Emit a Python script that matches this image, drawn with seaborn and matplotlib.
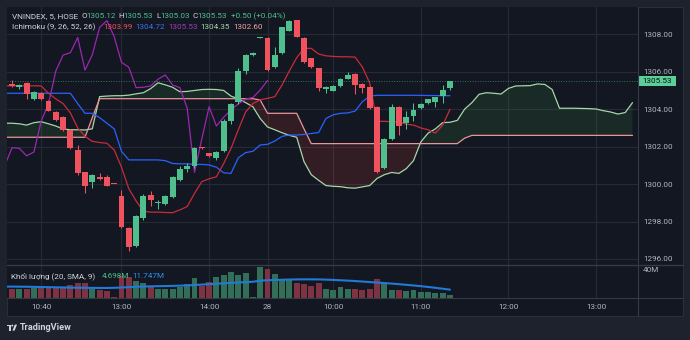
import numpy as np
import matplotlib
matplotlib.use("Agg")
import matplotlib.pyplot as plt
from matplotlib.patches import Rectangle, Polygon, Ellipse
from matplotlib.lines import Line2D
import seaborn as sns

# ---------------- data ----------------
opens = [1305.32, 1305.17, 1305.41, 1304.54, 1304.88, 1304.44, 1303.87, 1303.60, 1302.89, 1301.82,
         1300.63, 1300.13, 1300.39, 1300.39, 1300.02, 1299.38, 1297.67, 1296.71, 1298.17, 1299.42,
         1299.00, 1298.93, 1299.29, 1300.22, 1300.80, 1300.96, 1301.96, 1301.64, 1301.38, 1301.77,
         1303.38, 1304.40, 1306.04, 1306.89, 1307.80, 1307.82, 1306.24, 1306.98, 1308.18, 1308.76,
         1307.82, 1306.72, 1306.18, 1305.06, 1304.99, 1305.24, 1305.63, 1305.88, 1305.35, 1305.20,
         1304.13, 1300.84, 1302.41, 1304.13, 1303.28, 1303.65, 1304.05, 1304.35, 1304.40, 1304.70,
         1305.12]
highs = [1305.55, 1305.35, 1305.45, 1304.98, 1304.92, 1304.48, 1303.90, 1303.65, 1302.92, 1302.09,
         1300.66, 1300.52, 1300.57, 1300.50, 1300.02, 1299.68, 1297.70, 1298.35, 1299.45, 1299.63,
         1299.15, 1299.42, 1300.45, 1300.95, 1301.11, 1302.00, 1302.00, 1301.68, 1301.78, 1303.45,
         1304.35, 1306.18, 1306.95, 1307.06, 1307.85, 1307.85, 1307.34, 1308.40, 1308.76, 1308.78,
         1307.85, 1306.75, 1306.20, 1305.22, 1305.28, 1305.65, 1306.00, 1305.92, 1305.38, 1305.22,
         1304.15, 1302.45, 1304.28, 1304.18, 1303.92, 1304.35, 1304.32, 1304.57, 1304.67, 1305.29,
         1305.53]
lows = [1305.20, 1305.10, 1304.53, 1304.49, 1304.50, 1303.88, 1303.38, 1302.85, 1301.88, 1300.50,
        1299.54, 1299.79, 1300.20, 1299.88, 1299.98, 1297.65, 1296.42, 1296.65, 1298.10, 1298.83,
        1298.65, 1298.88, 1299.25, 1300.18, 1300.66, 1300.85, 1301.85, 1301.45, 1301.30, 1301.70,
        1303.20, 1304.30, 1305.90, 1306.85, 1307.80, 1306.05, 1306.20, 1306.95, 1308.15, 1307.85,
        1306.45, 1306.20, 1304.99, 1304.85, 1304.95, 1305.20, 1305.60, 1304.79, 1304.85, 1304.00,
        1300.60, 1300.80, 1302.38, 1302.62, 1302.93, 1303.38, 1304.00, 1304.30, 1304.13, 1304.35,
        1305.03]
closes = [1305.26, 1305.28, 1304.79, 1304.93, 1304.55, 1303.92, 1303.42, 1302.89, 1301.91, 1300.57,
          1299.91, 1300.48, 1300.27, 1299.91, 1299.98, 1297.69, 1296.65, 1298.31, 1299.36, 1299.15,
          1299.05, 1299.38, 1300.36, 1300.80, 1300.98, 1301.94, 1301.91, 1301.51, 1301.71, 1303.37,
          1304.28, 1306.04, 1306.89, 1307.02, 1307.83, 1306.09, 1306.90, 1308.37, 1308.73, 1307.87,
          1306.50, 1306.24, 1305.15, 1305.17, 1305.24, 1305.60, 1305.83, 1305.29, 1305.15, 1304.05,
          1300.63, 1302.41, 1304.13, 1303.10, 1303.57, 1303.96, 1304.28, 1304.53, 1304.63, 1305.02,
          1305.53]
volumes_m = [13.1, 13.1, 13.1, 14.0, 14.0, 14.0, 14.0, 15.4, 17.8, 21.5,
             21.5, 13.0, 10.8, 9.4, 1.5, 30.9, 29.5, 23.9, 21.5, 15.4,
             13.1, 13.1, 13.1, 15.4, 20.1, 28.1, 16.8, 22.5, 29.5, 32.8,
             36.5, 32.8, 35.1, 1.9, 43.5, 40.2, 34.2, 24.8, 24.8, 21.1,
             19.2, 16.8, 21.1, 13.1, 11.2, 15.0, 13.1, 13.1, 11.2, 12.2,
             27.1, 20.6, 11.2, 11.2, 9.4, 11.2, 8.4, 8.4, 7.5, 7.5,
             4.698]
# lines below start one bar before the first candle (index -1)
conversion = [1305.25, 1305.25, 1305.25, 1305.25, 1305.25, 1305.24, 1304.85, 1304.55, 1304.30, 1303.80,
              1303.00, 1302.55, 1302.28, 1302.22, 1302.18, 1301.82, 1300.90, 1299.75, 1299.10, 1298.55,
              1298.50, 1298.50, 1298.48, 1298.47, 1298.62, 1298.80, 1299.50, 1300.13, 1300.28, 1300.39,
              1301.10, 1301.90, 1302.90, 1303.85, 1304.30, 1304.50, 1304.58, 1304.67, 1305.30, 1306.05,
              1306.75, 1307.25, 1307.25, 1306.95, 1306.85, 1306.82, 1306.80, 1306.80, 1306.78, 1306.25,
              1305.40, 1303.35, 1303.35, 1303.33, 1303.30, 1303.20, 1303.15, 1303.00, 1302.90, 1302.72,
              1303.15, 1303.99]
base = [1304.85, 1304.85, 1304.85, 1304.85, 1304.85, 1304.85, 1304.85, 1304.85, 1304.85, 1304.85,
        1304.30, 1303.78, 1303.78, 1303.55, 1303.25, 1302.95, 1301.75, 1301.29, 1301.29, 1301.29,
        1301.29, 1301.29, 1301.25, 1301.10, 1301.08, 1301.08, 1301.05, 1301.05, 1301.02, 1300.90,
        1300.60, 1300.57, 1301.40, 1301.68, 1301.75, 1302.09, 1302.12, 1302.30, 1302.55, 1302.62,
        1302.62, 1302.65, 1302.70, 1302.75, 1303.50, 1303.70, 1303.78, 1303.80, 1303.90, 1304.40,
        1304.70, 1304.74, 1304.74, 1304.74, 1304.74, 1304.74, 1304.74, 1304.74, 1304.73, 1304.73,
        1304.72, 1304.72]
vol_ma_m = [16.0, 16.0, 15.9, 15.8, 15.6, 15.4, 15.2, 15.0, 14.8, 14.6,
            14.4, 14.3, 14.2, 14.1, 14.1, 14.3, 14.7, 15.2, 15.7, 16.1,
            16.4, 16.6, 16.8, 17.0, 17.3, 17.7, 18.2, 18.8, 19.4, 20.0,
            20.6, 21.2, 21.8, 22.3, 22.8, 24.3, 24.9, 25.3, 25.6, 25.9,
            26.1, 26.2, 26.2, 26.1, 25.8, 25.4, 24.9, 24.4, 23.8, 23.1,
            22.4, 21.7, 21.0, 20.2, 19.4, 18.5, 17.6, 16.6, 15.5, 14.3,
            13.0, 11.747]
# leading spans: index -1 .. 85 (projected 25 bars ahead)
span_a = [1303.25, 1303.25, 1303.22, 1303.15, 1303.28, 1303.33, 1303.22, 1303.10, 1302.94, 1302.90,
          1302.90, 1302.89, 1302.95, 1304.67, 1304.70, 1304.72, 1304.72, 1304.75, 1304.82, 1304.88,
          1305.10, 1305.41, 1305.30, 1305.17, 1304.93, 1304.95, 1305.00, 1305.05, 1305.06, 1305.05,
          1305.00, 1304.70, 1304.55, 1304.35, 1304.13, 1303.50, 1303.05, 1302.90, 1302.74, 1302.60,
          1302.50, 1301.20, 1300.50, 1300.20, 1299.92, 1299.88, 1299.86, 1299.80, 1299.78, 1299.85,
          1299.92, 1300.30, 1300.50, 1300.62, 1300.57, 1300.82, 1301.25, 1302.25, 1302.72, 1302.95,
          1303.28, 1303.30, 1303.40, 1304.00, 1304.35, 1304.80, 1304.88, 1304.85, 1304.81, 1305.11,
          1305.24, 1305.25, 1305.26, 1305.35, 1305.32, 1305.05, 1304.05, 1304.05, 1304.05, 1304.04,
          1304.03, 1304.01, 1303.92, 1303.85, 1303.74, 1303.82, 1304.35]
span_b = [1302.50, 1302.50, 1302.50, 1302.50, 1302.50, 1302.50, 1302.50, 1302.50, 1302.50, 1302.50,
          1302.50, 1302.50, 1303.55, 1304.56, 1304.56, 1304.56, 1304.56, 1304.56, 1304.56, 1304.56,
          1304.56, 1304.56, 1304.56, 1304.56, 1304.56, 1304.56, 1304.56, 1304.56, 1304.56, 1304.56,
          1304.56, 1304.56, 1304.56, 1304.56, 1304.56, 1304.49, 1303.78, 1303.78, 1303.78, 1303.78,
          1303.78, 1302.95, 1302.16, 1302.16, 1302.16, 1302.16, 1302.16, 1302.16, 1302.16, 1302.16,
          1302.16, 1302.16, 1302.16, 1302.16, 1302.16, 1302.16, 1302.16, 1302.16, 1302.16, 1302.16,
          1302.16, 1302.16, 1302.16, 1302.45, 1302.60, 1302.60, 1302.60, 1302.60, 1302.60, 1302.60,
          1302.60, 1302.60, 1302.60, 1302.60, 1302.60, 1302.60, 1302.60, 1302.60, 1302.60, 1302.60,
          1302.60, 1302.60, 1302.60, 1302.60, 1302.60, 1302.60, 1302.60]
LAG = 25
time_tick_bars = [4, 15, 27, 35, 44, 56, 68, 80]
time_tick_labels = ["10:40", "13:00", "14:00", "28", "10:00", "11:00", "12:00", "13:00"]
price_ticks = [1296, 1298, 1300, 1302, 1304, 1306, 1308]
last_price = 1305.53

# ---------------- style ----------------
sns.set_theme(style="dark")
plt.rcParams['font.family'] = ['Roboto', 'DejaVu Sans']

W, H = 690, 340
BG = '#1e222d'
PANEL = '#131722'
GRID = '#262a36'
SEP = '#363a45'
TXT = '#b2b5be'
LEG = '#d1d4dc'
UP = '#4fc08d'
DN = '#f0525e'
VUP = '#336f58'
VDN = '#7d3342'
C_CONV = '#c92b39'
C_BASE = '#2962ff'
C_LAG = '#9c27b0'
C_SA = '#a5d6a7'
C_SB = '#e8959a'
C_VMA = '#1f7ad8'
FS = 5.9

def price_at(py):
    return 1308 - (py - 34.3) / 18.72

def bar_at(px):
    return (px - 12) / 7.3

def fxy(px, py):
    return (px / W, 1 - py / H)

fig = plt.figure(figsize=(W / 100, H / 100), dpi=100, facecolor=BG)
fig.add_artist(Rectangle(fxy(6.5, 316), (683 - 6.5) / W, (316 - 6.5) / H,
                         transform=fig.transFigure, facecolor=PANEL,
                         edgecolor='#2a2e39', lw=0.8, zorder=-10))

ax = fig.add_axes([6.5 / W, 1 - 265 / H, (638 - 6.5) / W, (265 - 6.5) / H])
axv = fig.add_axes([6.5 / W, 1 - 298 / H, (638 - 6.5) / W, (298 - 265) / H])

o = np.array(opens); h = np.array(highs); l = np.array(lows); c = np.array(closes)
idx = np.arange(len(o))
line_idx = np.arange(-1, len(o))
cloud_idx = np.arange(-1, len(span_a) - 1)
lag_vals = np.array(closes[LAG - 1:])
lag_idx = np.arange(-1, len(lag_vals) - 1)
A = np.array(span_a); B = np.array(span_b)

for a in (ax, axv):
    a.set_facecolor(PANEL)
    a.grid(False)
    for s in a.spines.values():
        s.set_visible(False)
    for t in time_tick_bars:
        a.axvline(t, color=GRID, lw=0.8, zorder=0)
for p in price_ticks:
    ax.axhline(p, color=GRID, lw=0.8, zorder=0)

# cloud
ax.fill_between(cloud_idx, A, B, where=A >= B, interpolate=True, color='#43a047', alpha=0.14, lw=0, zorder=1)
ax.fill_between(cloud_idx, A, B, where=A < B, interpolate=True, color='#f44336', alpha=0.14, lw=0, zorder=1)
sns.lineplot(x=cloud_idx, y=A, ax=ax, color=C_SA, lw=0.9, legend=False, zorder=2)
sns.lineplot(x=cloud_idx, y=B, ax=ax, color=C_SB, lw=0.9, legend=False, zorder=2)
sns.lineplot(x=lag_idx, y=lag_vals, ax=ax, color=C_LAG, lw=0.9, legend=False, zorder=3)
sns.lineplot(x=line_idx, y=np.array(base), ax=ax, color=C_BASE, lw=0.9, legend=False, zorder=3)
sns.lineplot(x=line_idx, y=np.array(conversion), ax=ax, color=C_CONV, lw=0.9, legend=False, zorder=3)

# candles
up = c >= o
ccol = np.where(up, UP, DN)
ax.vlines(idx, l, h, colors=ccol, lw=0.75, zorder=4)
ax.bar(idx, np.maximum(np.abs(c - o), 0.05), bottom=np.minimum(o, c), width=0.8,
       color=ccol, linewidth=0, zorder=5)
ax.axhline(last_price, color=UP, lw=0.7, ls=(0, (1, 1.6)), alpha=0.55, zorder=6)

# volume
axv.bar(idx, volumes_m, width=0.82, color=np.where(up, VUP, VDN), linewidth=0, zorder=2)
sns.lineplot(x=line_idx, y=np.array(vol_ma_m), ax=axv, color=C_VMA, lw=1.5, legend=False, zorder=3)

# axes ranges & ticks
for a in (ax, axv):
    a.set_xlim(bar_at(6.5), bar_at(638))
    a.set_xlabel(''); a.set_ylabel('')
ax.set_ylim(price_at(265), price_at(6.5))
axv.set_ylim(0, 33 / 0.7125)

ax.set_xticks(time_tick_bars)
ax.tick_params(axis='x', length=0, labelbottom=False)
ax.yaxis.tick_right()
ax.set_yticks(price_ticks)
ax.set_yticklabels([f"{v:.2f}" for v in price_ticks])
ax.tick_params(axis='y', length=0, pad=3.6, labelsize=FS, labelcolor=TXT)
axv.set_yticks([])
axv.set_xticks(time_tick_bars)
axv.set_xticklabels(time_tick_labels)
axv.tick_params(axis='x', length=0, pad=4.6, labelsize=FS, labelcolor=TXT)

# separators
def fline(x0, y0, x1, y1, color=SEP, lw=0.8):
    fig.add_artist(Line2D([x0 / W, x1 / W], [1 - y0 / H, 1 - y1 / H],
                          transform=fig.transFigure, color=color, lw=lw))
fline(638, 6.5, 638, 316)
fline(6.5, 265, 683, 265, lw=1.0)
fline(6.5, 298, 683, 298)

# last price label
fig.add_artist(Rectangle(fxy(639, 86), 37 / W, 10.5 / H, transform=fig.transFigure,
                         facecolor='#5bcf97', edgecolor='none'))
fig.text(*fxy(657.5, 80.8), f"{last_price:.2f}", ha='center', va='center', size=FS, color='#0d1017')
fig.text(*fxy(643, 269.5), "40M", ha='left', va='center', size=FS, color=TXT)

# legends
def seg(x, y, s, col):
    fig.text(*fxy(x, y), s, ha='left', va='center', size=FS, color=col)

y1 = 16
seg(11.7, y1, "VNINDEX, 5, HOSE", LEG)
for lx, lab, vx, val in [(81.7, "O", 86, "1305.12"), (118.5, "H", 123, "1305.53"),
                         (156.5, "L", 160.5, "1305.03"), (192.5, "C", 197.5, "1305.53")]:
    seg(lx, y1, lab, LEG)
    seg(vx, y1, val, UP)
seg(231, y1, "+0.50 (+0.04%)", UP)

y2 = 27.3
seg(11.7, y2, "Ichimoku (9, 26, 52, 26)", LEG)
for vx, val, col in [(103, "1303.99", '#f0505c'), (135, "1304.72", '#3d6ff0'),
                     (168, "1305.53", '#a23cb6'), (200, "1304.35", C_SA), (233, "1302.60", '#efa3a3')]:
    seg(vx, y2, val, col)

y3 = 276
seg(11, y3, "Khối lượng (20, SMA, 9)", LEG)
seg(102, y3, "4.698M", UP)
seg(132, y3, "11.747M", '#2a8ef0')

# TradingView logo
logo = '#d1d4dc'
fig.add_artist(Polygon([fxy(6.7, 324.6), fxy(10.9, 324.6), fxy(10.9, 330.6),
                        fxy(8.8, 330.6), fxy(8.8, 326.4), fxy(6.7, 326.4)],
                       closed=True, transform=fig.transFigure, facecolor=logo, edgecolor='none'))
fig.add_artist(Ellipse(fxy(12.3, 325.6), 2.0 / W, 2.0 / H, transform=fig.transFigure,
                       facecolor=logo, edgecolor='none'))
fig.add_artist(Polygon([fxy(12.4, 330.6), fxy(14.8, 324.6), fxy(17.0, 324.6), fxy(14.6, 330.6)],
                       closed=True, transform=fig.transFigure, facecolor=logo, edgecolor='none'))
fig.text(*fxy(20, 327.6), "TradingView", ha='left', va='center', size=6.6,
         color=logo, fontweight='bold')

fig.savefig("out.png", dpi=100, facecolor=BG)
